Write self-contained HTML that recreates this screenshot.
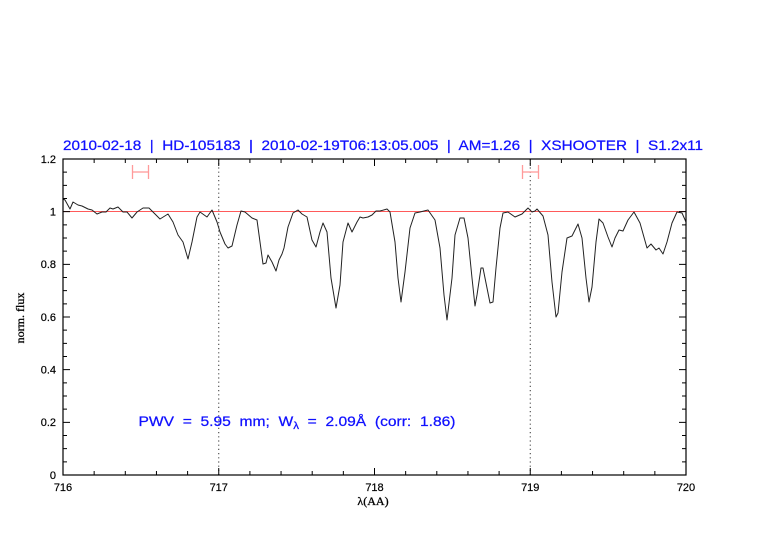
<!DOCTYPE html>
<html>
<head>
<meta charset="utf-8">
<style>
  html, body { margin:0; padding:0; background:#fff; }
  svg { display:block; }
  .pre { white-space: pre; }
</style>
</head>
<body>
<svg width="782" height="542" viewBox="0 0 782 542" xmlns="http://www.w3.org/2000/svg" xml:space="preserve">
  <rect x="0" y="0" width="782" height="542" fill="#fff"/>

  <!-- Title -->
  <text class="pre" x="63" y="150" font-family="Liberation Sans, sans-serif" font-size="14" fill="#1010ff" stroke="#1010ff" stroke-width="0.25" textLength="640" lengthAdjust="spacingAndGlyphs">2010-02-18  |  HD-105183  |  2010-02-19T06:13:05.005  |  AM=1.26  |  XSHOOTER  |  S1.2x11</text>

  <!-- reference line at 1.0 -->
  <line x1="63" y1="211.5" x2="686" y2="211.5" stroke="#ff5a5a" stroke-width="1"/>

  <!-- dotted verticals -->
  <line x1="218.75" y1="159" x2="218.75" y2="475" stroke="#333" stroke-width="1" stroke-dasharray="1.2,3"/>
  <line x1="530.25" y1="159" x2="530.25" y2="475" stroke="#333" stroke-width="1" stroke-dasharray="1.2,3"/>

  <!-- range bars -->
  <g stroke="#ff9a9a" stroke-width="1.3" fill="none">
    <line x1="132.5" y1="172" x2="148.5" y2="172"/>
    <line x1="132.5" y1="165" x2="132.5" y2="179"/>
    <line x1="148.5" y1="165" x2="148.5" y2="179"/>
    <line x1="522.5" y1="172" x2="538.5" y2="172"/>
    <line x1="522.5" y1="165" x2="522.5" y2="179"/>
    <line x1="538.5" y1="165" x2="538.5" y2="179"/>
  </g>

  <!-- spectrum -->
  <polyline fill="none" stroke="#222" stroke-width="1" stroke-linejoin="round" points="63,199 65,200 70,209 73,202 78,205 82,206 88,209 92,210 97,214 102,212 106,212 110,208 113,209 118,207 123,212 127,212 132,218 137,212 143,208 149,208 155,214 160,219 168,214 173,222 178,235 183,242 188,259 192,242 197,217 200,212 207,217 212,210 217,222 220,232 225,244 228,248 232,246 237,225 241,211 245,212 252,218 257,220 260,242 263,264 266,263 268,255 272,262 276,271 279,260 282,254 284,248 288,227 293,213 298,210 302,214 307,217 312,240 316,247 320,232 323,223 327,232 331,278 336,308 340,285 343,242 348,223 352,232 357,222 360,217 363,218 368,217 372,215 376,211 380,211 387,209 390,212 395,242 398,278 401,302 405,272 410,228 415,213 420,212 428,210 435,220 440,248 444,295 447,320 452,278 455,235 460,218 464,218 468,238 472,278 475,306 477,295 481,268 483,268 487,288 490,303 493,302 496,268 500,228 503,213 508,212 515,217 522,214 528,208 532,212 535,211 537,209 543,216 548,235 552,282 556,317 558,313 562,272 567,238 572,236 575,230 578,224 582,238 586,278 589,302 592,287 596,242 599,219 603,223 608,237 612,247 615,238 619,230 623,231 628,220 634,212 640,223 647,248 651,244 656,250 659,248 663,254 667,242 672,223 677,212 682,213 686,222"/>

  <!-- frame -->
  <rect x="63" y="159" width="623" height="316" fill="none" stroke="#000" stroke-width="1.2"/>

  <!-- ticks -->
  <g stroke="#000" stroke-width="1">
    <path d="M63,475v-7M218.75,475v-7M374.5,475v-7M530.25,475v-7M686,475v-7 M63,159v7M218.75,159v7M374.5,159v7M530.25,159v7M686,159v7"/>
    <path d="M94.15,475v-4M125.3,475v-4M156.45,475v-4M187.6,475v-4 M249.9,475v-4M281.05,475v-4M312.2,475v-4M343.35,475v-4 M405.65,475v-4M436.8,475v-4M467.95,475v-4M499.1,475v-4 M561.4,475v-4M592.55,475v-4M623.7,475v-4M654.85,475v-4 M94.15,159v4M125.3,159v4M156.45,159v4M187.6,159v4 M249.9,159v4M281.05,159v4M312.2,159v4M343.35,159v4 M405.65,159v4M436.8,159v4M467.95,159v4M499.1,159v4 M561.4,159v4M592.55,159v4M623.7,159v4M654.85,159v4"/>
    <path d="M63,475h7M63,422.33h7M63,369.67h7M63,317h7M63,264.33h7M63,211.67h7M63,159h7 M686,475h-7M686,422.33h-7M686,369.67h-7M686,317h-7M686,264.33h-7M686,211.67h-7M686,159h-7"/>
    <path d="M63,461.83h4M63,448.67h4M63,435.5h4 M63,409.17h4M63,396h4M63,382.83h4 M63,356.5h4M63,343.33h4M63,330.17h4 M63,303.83h4M63,290.67h4M63,277.5h4 M63,251.17h4M63,238h4M63,224.83h4 M63,198.5h4M63,185.33h4M63,172.17h4 M686,461.83h-4M686,448.67h-4M686,435.5h-4 M686,409.17h-4M686,396h-4M686,382.83h-4 M686,356.5h-4M686,343.33h-4M686,330.17h-4 M686,303.83h-4M686,290.67h-4M686,277.5h-4 M686,251.17h-4M686,238h-4M686,224.83h-4 M686,198.5h-4M686,185.33h-4M686,172.17h-4"/>
  </g>

  <!-- y tick labels -->
  <g font-family="Liberation Sans, sans-serif" font-size="11" fill="#000" stroke="#000" stroke-width="0.2" text-anchor="end">
    <text x="56" y="479">0</text>
    <text x="56" y="426">0.2</text>
    <text x="56" y="373.5">0.4</text>
    <text x="56" y="321">0.6</text>
    <text x="56" y="268">0.8</text>
    <text x="56" y="215.5">1</text>
    <text x="56" y="163">1.2</text>
  </g>

  <!-- x tick labels -->
  <g font-family="Liberation Sans, sans-serif" font-size="11" fill="#000" stroke="#000" stroke-width="0.2" text-anchor="middle">
    <text x="63" y="491">716</text>
    <text x="218.75" y="491">717</text>
    <text x="374.5" y="491">718</text>
    <text x="530.25" y="491">719</text>
    <text x="686" y="491">720</text>
  </g>

  <!-- axis labels -->
  <text x="373" y="505" font-family="Liberation Serif, serif" font-size="12" fill="#000" stroke="#000" stroke-width="0.3" text-anchor="middle">λ(AA)</text>
  <text transform="translate(24,318) rotate(-90)" font-family="Liberation Serif, serif" font-size="12" fill="#000" stroke="#000" stroke-width="0.3" text-anchor="middle">norm. flux</text>

  <!-- PWV annotation -->
  <text class="pre" x="138.5" y="426" font-family="Liberation Sans, sans-serif" font-size="13.5" fill="#1010ff" stroke="#1010ff" stroke-width="0.25" textLength="317" lengthAdjust="spacingAndGlyphs">PWV  =  5.95  mm;  W<tspan font-size="10" dy="3">λ</tspan><tspan dy="-3">  =  2.09Å  (corr:  1.86)</tspan></text>
</svg>
</body>
</html>
